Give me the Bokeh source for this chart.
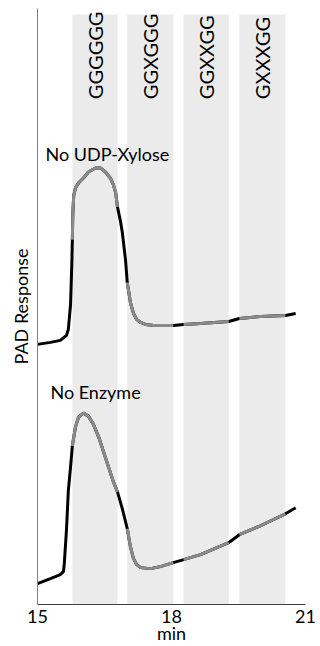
import numpy as np
from bokeh.plotting import figure
from bokeh.models import Range1d, FixedTicker
from bokeh.core.properties import value
from bokeh.embed import file_html
from bokeh.resources import INLINE

FONT = "Lato"

# ---- data ----
band_labels = ["GGGGGG", "GGXGGG", "GGXXGG", "GXXXGG"]
band_start = [15.78, 17.01, 18.27, 19.52]
band_end = [16.79, 18.04, 19.28, 20.55]
band_top = 592
band_label_y = 507

time_top = [15.00, 15.29, 15.51, 15.65, 15.69, 15.74, 15.77, 15.78, 15.79, 15.81,
            15.85, 15.92, 16.03, 16.14, 16.30, 16.41, 16.52, 16.63, 16.70, 16.75,
            16.79, 16.86, 16.90, 16.97, 17.01, 17.08, 17.15, 17.22, 17.31, 17.42,
            17.60, 17.75, 18.04, 18.27, 18.65, 19.28, 19.52, 19.99, 20.55, 20.78]
resp_top = [261, 263, 265, 270, 276, 301, 344, 366, 391, 410,
            418, 423, 428, 434, 438, 438, 434, 428, 421, 413,
            399, 384, 373, 346, 323, 303, 292, 286, 283, 281,
            280, 280, 280, 281, 282, 284, 287, 289, 290, 292]

time_bottom = [15.00, 15.29, 15.51, 15.58, 15.60, 15.65, 15.69, 15.74, 15.78, 15.85,
               15.92, 16.03, 16.14, 16.25, 16.37, 16.48, 16.59, 16.70, 16.79, 16.90,
               17.01, 17.08, 17.15, 17.22, 17.31, 17.53, 17.75, 18.04, 18.27, 18.65,
               19.28, 19.52, 19.99, 20.55, 20.78]
resp_bottom = [21, 26, 30, 33, 41, 76, 114, 138, 159, 178,
               188, 192, 189, 181, 168, 153, 138, 123, 113, 96,
               76, 58, 46, 40, 37, 36, 38, 42, 45, 50,
               62, 70, 79, 91, 97]

trace_names = ["No UDP-Xylose", "No Enzyme"]
name_x = [15.18, 15.29]
name_y = [452, 213]

x_ticks = [15, 18, 21]

# ---- figure ----
p = figure(width=320, height=646, x_range=Range1d(15, 21), y_range=Range1d(0, 598),
           output_backend="svg", toolbar_location=None,
           min_border_left=37, min_border_right=15, min_border_top=8, min_border_bottom=40)
p.outline_line_color = None
p.xgrid.visible = False
p.ygrid.visible = False
p.background_fill_color = "white"

p.quad(left=band_start, right=band_end, bottom=0, top=band_top,
       fill_color="#EBEBEB", line_color=None)

centers = [(s + e) / 2 for s, e in zip(band_start, band_end)]
p.text(x=centers, y=[band_label_y] * len(centers), text=band_labels, angle=np.pi / 2,
       text_align="left", text_baseline="middle", text_font=value(FONT),
       text_font_size="20px", text_color="black")


def draw_trace(t, r):
    t = np.asarray(t)
    r = np.asarray(r)
    p.line(t, r, line_color="black", line_width=3)
    for s, e in zip(band_start, band_end):
        m = (t >= s - 1e-9) & (t <= e + 1e-9)
        p.line(t[m], r[m], line_color="#8A8A8A", line_width=3)


draw_trace(time_top, resp_top)
draw_trace(time_bottom, resp_bottom)

p.text(x=name_x, y=name_y, text=trace_names, text_align="left",
       text_baseline="alphabetic", text_font=value(FONT), text_font_size="18px",
       text_color="black")

# axes
p.xaxis.ticker = FixedTicker(ticks=x_ticks)
p.xaxis.minor_tick_line_color = None
p.xaxis.major_tick_out = 0
p.xaxis.major_tick_in = 0
p.xaxis.axis_line_color = "#404040"
p.xaxis.major_label_text_font = FONT
p.xaxis.major_label_text_font_size = "18px"
p.xaxis.major_label_text_color = "black"
p.xaxis.major_label_standoff = 5
p.xaxis.axis_label = "min"
p.xaxis.axis_label_text_font = FONT
p.xaxis.axis_label_text_font_size = "18px"
p.xaxis.axis_label_text_font_style = "normal"
p.xaxis.axis_label_text_color = "black"
p.xaxis.axis_label_standoff = -4

p.yaxis.ticker = FixedTicker(ticks=[])
p.yaxis.minor_tick_line_color = None
p.yaxis.major_tick_out = 0
p.yaxis.major_tick_in = 0
p.yaxis.major_label_standoff = 0
p.yaxis.axis_line_color = "#808080"
p.yaxis.axis_label = "PAD Response"
p.yaxis.axis_label_text_font = FONT
p.yaxis.axis_label_text_font_size = "18px"
p.yaxis.axis_label_text_font_style = "normal"
p.yaxis.axis_label_text_color = "black"
p.yaxis.axis_label_standoff = 6

open("out.html", "w").write(file_html(p, INLINE))
